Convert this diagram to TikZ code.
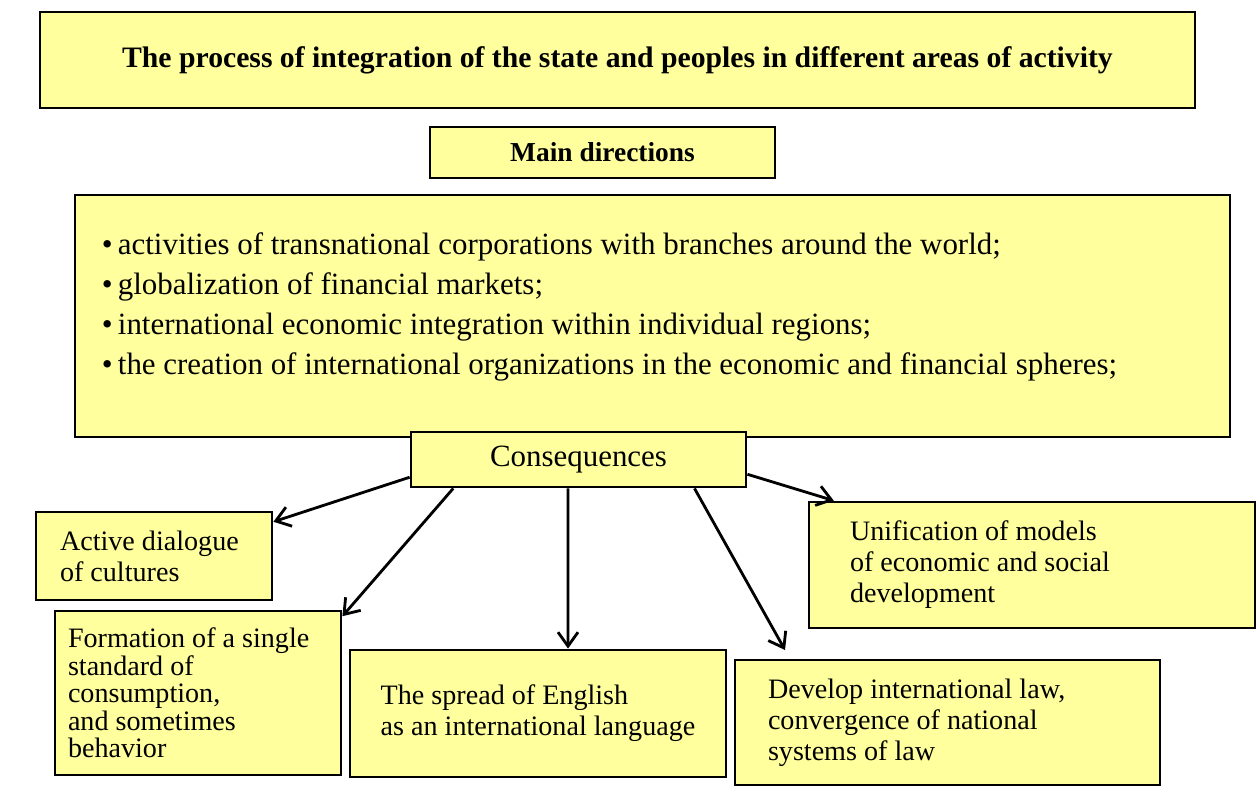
\documentclass[tikz,border=0pt]{standalone}
\usepackage{fontspec}
\setmainfont{Liberation Serif}
\usepackage{tikz}
\usetikzlibrary{arrows.meta}
\definecolor{boxyellow}{RGB}{255,255,158}
\tikzset{% 
  box/.style = {shape=rectangle, draw, line width=1.6pt,
    fill=boxyellow, align=flush left, inner ysep=0pt},
  txt/.style = {font=\fontsize{16pt}{17.6pt}\selectfont},
  conn/.style = {draw, line width=1.6pt,
    -{Straight Barb[length=2.8mm,width=4mm,line width=1.6pt]}}
}

\begin{document}
\begin{tikzpicture}
  \useasboundingbox[fill=white] (0,0) rectangle (25.14,-16.22);
  \node[box, minimum width=23.1cm, minimum height=1.92cm, align=center,
    font=\bfseries\fontsize{16.9pt}{18pt}\selectfont] (title) at (12.35,-1.2)
    {The process of integration of the state and peoples in different areas of activity};
  \node[box, minimum width=6.9cm, minimum height=1.02cm, align=center,
    font=\bfseries\fontsize{15.6pt}{17pt}\selectfont] (main) at (12.05,-3.05)
    {Main directions};
  \node[box, minimum width=23.1cm, minimum height=4.84cm] (dirs) at (13.05,-6.32) {};
  \node[anchor=west, align=left, inner sep=0pt,
    font=\fontsize{17.6pt}{22.7pt}\selectfont] (dirlist) at ([xshift=0.56cm,yshift=0.18cm]dirs.west)
    {\textbullet\,activities of transnational corporations with branches around the world;\\
     \textbullet\,globalization of financial markets;\\
     \textbullet\,international economic integration within individual regions;\\
     \textbullet\,the creation of international organizations in the economic and financial spheres;};
  \node[box, minimum width=6.7cm, minimum height=1.1cm, align=center,
    font=\fontsize{17.6pt}{19pt}\selectfont] (cons) at (11.57,-9.19)
    {Consequences};
  % consequences
  \node[box, txt, minimum width=4.72cm, minimum height=1.76cm,
    inner xsep=0.48cm, text width=3.76cm] (dialog) at (3.08,-11.12)
    {Active dialogue\\of cultures};
  \node[box, minimum width=5.72cm, minimum height=3.28cm,
    inner xsep=0.26cm, text width=5.2cm,
    font=\fontsize{16pt}{15.6pt}\selectfont] (standard) at (3.96,-13.86)
    {Formation of a single\\standard of\\consumption,\\and sometimes\\behavior};
  \node[box, txt, minimum width=7.52cm, minimum height=2.54cm] (english) at (10.76,-14.27)
    {The spread of English\\as an international language};
  \node[box, txt, minimum width=8.92cm, minimum height=2.52cm,
    inner xsep=0.82cm, text width=7.28cm] (models) at (20.64,-11.3)
    {Unification of models\\of economic and social\\development};
  \node[box, txt, minimum width=8.5cm, minimum height=2.5cm,
    inner xsep=0.66cm, text width=7.18cm] (law) at (18.95,-14.45)
    {Develop international law,\\convergence of national\\systems of law};
  \coordinate (lawtip) at (15.7,-13.0);
  \draw[conn] (cons.186) -- (dialog.16);
  \draw[conn] (cons.193) -- (standard.28);
  \draw[conn] ([xshift=-2.1mm]cons.south) -- ([xshift=6mm]english.north);
  \draw[conn] (cons.346) -- (lawtip);
  \draw[conn] (cons.355) -- (models.162);
\end{tikzpicture}
\end{document}
